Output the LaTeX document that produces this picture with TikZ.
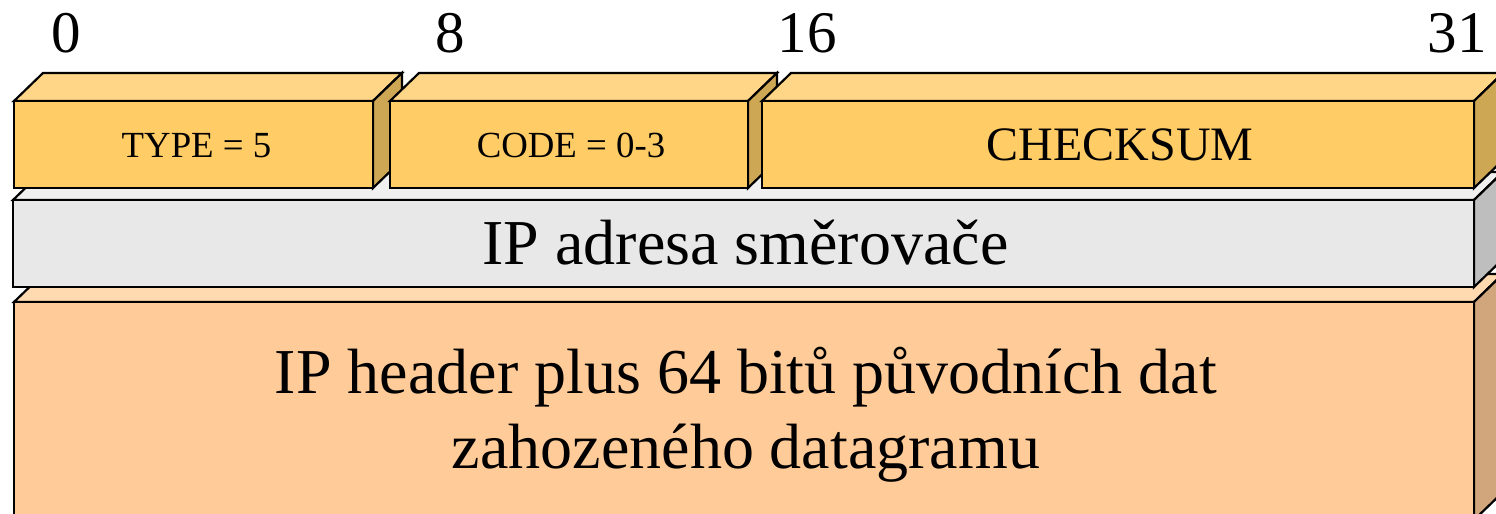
\documentclass[tikz,border=0pt]{standalone}
\usepackage{fontspec}
\setmainfont{Liberation Serif}
\usetikzlibrary{positioning}

\definecolor{hdrfront}{RGB}{255,204,102}
\definecolor{hdrtop}{RGB}{255,214,135}
\definecolor{hdrside}{RGB}{206,167,84}
\definecolor{addrfront}{RGB}{232,232,232}
\definecolor{addrtop}{RGB}{240,240,240}
\definecolor{addrside}{RGB}{190,190,190}
\definecolor{datafront}{RGB}{255,204,153}
\definecolor{datatop}{RGB}{255,217,176}
\definecolor{dataside}{RGB}{209,166,124}

% one 3d slab: left, top, right, bottom, colour prefix
\newcommand{\slab}[5]{%
  \filldraw[slabline,fill=#5top] (#1,#2) -- ++(29,-28) -- ++(#3-#1,0) -- (#3,#2) -- cycle;
  \filldraw[slabline,fill=#5side] (#3,#2) -- ++(29,-28) -- ++(0,#4-#2) -- (#3,#4) -- cycle;
  \filldraw[slabline,fill=#5front] (#1,#2) rectangle (#3,#4);
}

\begin{document}
\begin{tikzpicture}
  [x=0.5pt,y=-0.5pt,
   slabline/.style={draw=black,line width=1.1pt,line join=miter},
   bitnum/.style={anchor=base,inner sep=0pt,font=\fontsize{29.5}{35}\selectfont},
   small/.style={anchor=base,inner sep=0pt,font=\fontsize{18.4}{22}\selectfont},
   big/.style={inner sep=0pt,align=center,font=\fontsize{32}{37.5}\selectfont}]
  \useasboundingbox (0,0) rectangle (1496,514);
  \clip (0,0) rectangle (1496,514);

  % bottom to top, so the upper rows cover the lower top faces
  \slab{14}{302}{1474}{520}{data}
  \slab{13}{200}{1474}{287}{addr}
  \foreach \l/\r in {14/373,390/748,762/1474}
    {\slab{\l}{101}{\r}{188}{hdr}}

  % bit positions
  \node[bitnum] (b0) at (66,53) {0};
  \node[bitnum] (b8) at (450,53) {8};
  \node[bitnum] (b16) at (807,53) {16};
  \node[bitnum] (b31) at (1457,53) {31};

  \node[small] (type) at (196.5,157) {TYPE = 5};
  \node[small] (code) at (571,157) {CODE = 0-3};
  \node[anchor=base,inner sep=0pt,font=\fontsize{24}{29}\selectfont] (csum) at (1120,160) {CHECKSUM};
  \node[big,anchor=base] (addr) at (745.5,264) {IP adresa směrovače};
  \node[big] (data) at (746,415) {IP header plus 64 bitů původních dat\\zahozeného datagramu};
\end{tikzpicture}
\end{document}
